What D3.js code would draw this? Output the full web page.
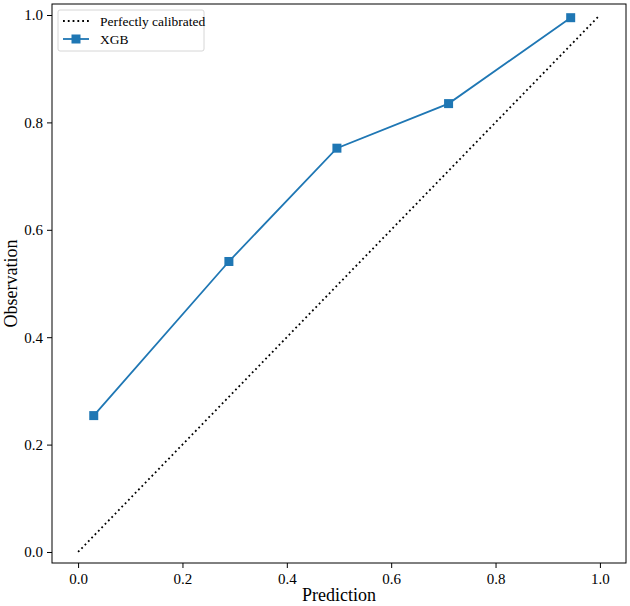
<!DOCTYPE html>
<html>
<head>
<meta charset="utf-8">
<script src="https://cdn.jsdelivr.net/npm/d3@7"></script>
<style>
  body { margin: 0; background: #fff; }
  svg { font-family: "Liberation Serif", "Times New Roman", serif; }
</style>
</head>
<body>
<div id="chart"></div>
<script>
var predX = [0.030, 0.289, 0.496, 0.710, 0.944],
obsY = [0.254, 0.541, 0.752, 0.835, 0.995],
diagX = [0, 1],
xTicks = [0, 0.2, 0.4, 0.6, 0.8, 1.0],
yTicks = [0, 0.2, 0.4, 0.6, 0.8, 1.0],
legendNames = ['Perfectly calibrated', 'XGB'];

var W = 630, H = 606,
mLeft = 52, mRight = 626, mTop = 4, mBottom = 563,
blue = '#1f77b4';

var svg = d3.select('#chart').
append('svg').
attr('width', W).
attr('height', H);

var xScale = d3.scaleLinear().domain([-0.05, 1.05]).range([mLeft, mRight]);
var yScale = d3.scaleLinear().domain([-0.0205, 1.0205]).range([mBottom, mTop]);

// axes
var xAxis = d3.axisBottom(xScale).tickValues(xTicks).tickFormat(d3.format('.1f')).tickSize(5).tickPadding(5);
var yAxis = d3.axisLeft(yScale).tickValues(yTicks).tickFormat(d3.format('.1f')).tickSize(5).tickPadding(4);

var gx = svg.append('g').attr('transform', 'translate(0,' + mBottom + ')').call(xAxis);
var gy = svg.append('g').attr('transform', 'translate(' + mLeft + ',0)').call(yAxis);
[gx, gy].forEach(function (g) {
  g.select('.domain').remove();
  g.selectAll('text').attr('font-size', 15).attr('fill', '#000').
  style('font-family', '"Liberation Serif", serif');
  g.selectAll('line').attr('stroke', '#000').attr('stroke-width', 1);
});

// frame
svg.append('rect').
attr('x', mLeft).attr('y', mTop).
attr('width', mRight - mLeft).attr('height', mBottom - mTop).
attr('fill', 'none').attr('stroke', '#000').attr('stroke-width', 1);

// diagonal
var line = d3.line().x(d => xScale(d[0])).y(d => yScale(d[1]));
svg.append('path').
datum(diagX.map(v => [v, v])).
attr('d', line).
attr('fill', 'none').
attr('stroke', '#000').
attr('stroke-width', 1.8).
attr('stroke-dasharray', '1.8,3');

// XGB curve
var pts = predX.map((v, i) => [v, obsY[i]]);
svg.append('path').
datum(pts).
attr('d', line).
attr('fill', 'none').
attr('stroke', blue).
attr('stroke-width', 1.8);

svg.selectAll('rect.marker').
data(pts).
enter().
append('rect').
attr('class', 'marker').
attr('x', d => xScale(d[0]) - 4.5).
attr('y', d => yScale(d[1]) - 4.5).
attr('width', 9).
attr('height', 9).
attr('fill', blue);

// axis labels
svg.append('text').
attr('x', (mLeft + mRight) / 2).
attr('y', 601).
attr('text-anchor', 'middle').
attr('font-size', 18).
text('Prediction');

svg.append('text').
attr('transform', 'translate(17,' + (mTop + mBottom) / 2 + ') rotate(-90)').
attr('text-anchor', 'middle').
attr('font-size', 18).
text('Observation');

// legend
var lg = svg.append('g').attr('transform', 'translate(58,10)');
lg.append('rect').
attr('width', 146).attr('height', 41).
attr('rx', 2).
attr('fill', '#fff').attr('fill-opacity', 0.8).
attr('stroke', '#ccc').attr('stroke-width', 0.8);

lg.append('line').
attr('x1', 5).attr('x2', 31).attr('y1', 11).attr('y2', 11).
attr('stroke', '#000').attr('stroke-width', 1.8).attr('stroke-dasharray', '1.8,3');
lg.append('line').
attr('x1', 5).attr('x2', 31).attr('y1', 29).attr('y2', 29).
attr('stroke', blue).attr('stroke-width', 1.8);
lg.append('rect').
attr('x', 13.5).attr('y', 24.5).attr('width', 9).attr('height', 9).attr('fill', blue);

lg.selectAll('text.lbl').
data(legendNames).
enter().
append('text').
attr('class', 'lbl').
attr('x', 42).
attr('y', (d, i) => 15.5 + i * 18).
attr('font-size', 13.5).
text(d => d);
</script>
</body>
</html>
